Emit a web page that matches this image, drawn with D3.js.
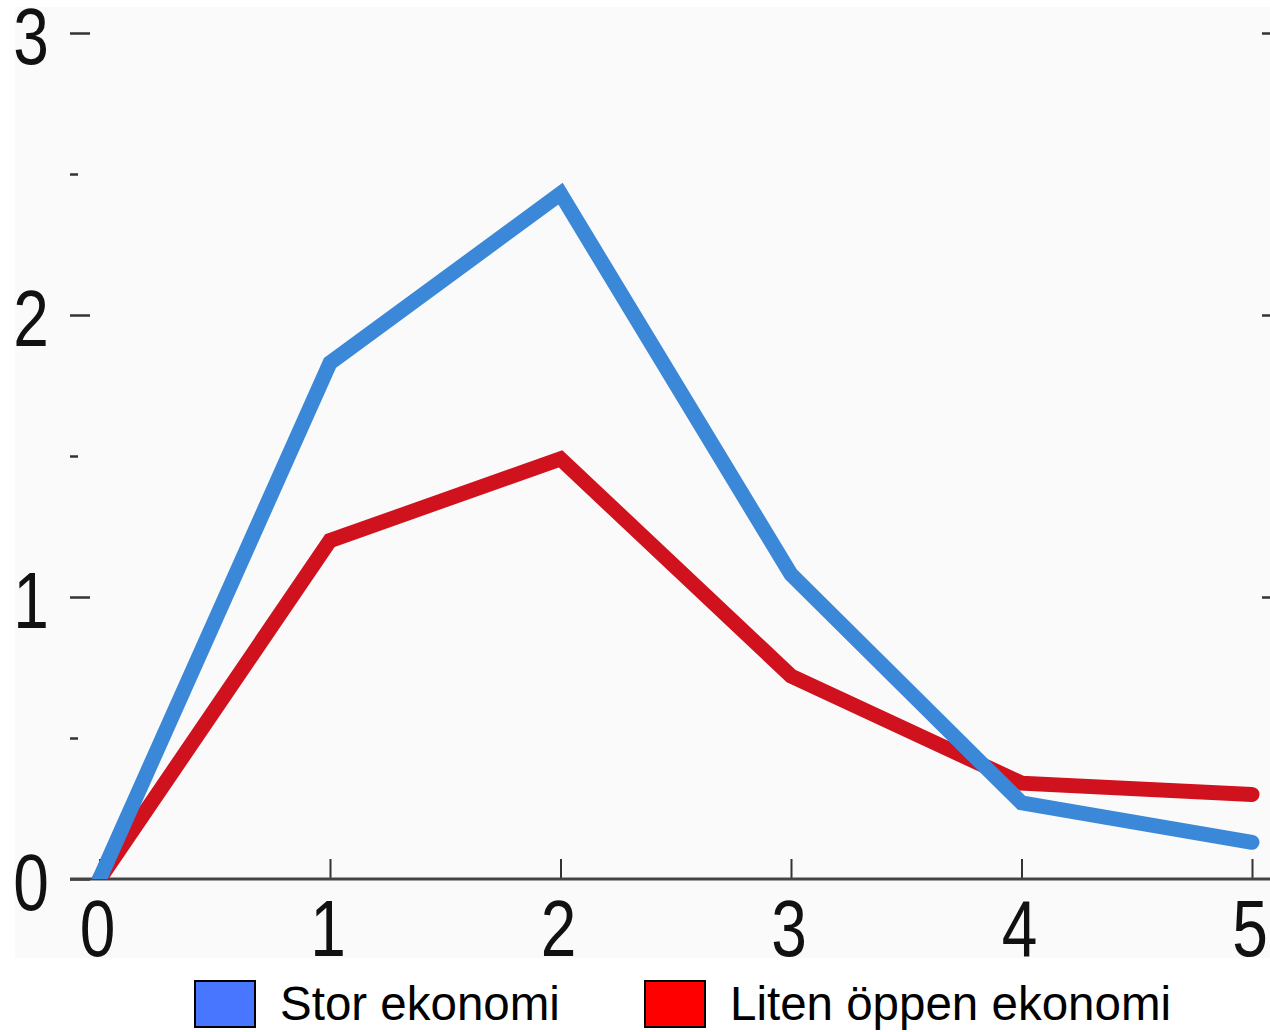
<!DOCTYPE html>
<html><head><meta charset="utf-8">
<script src="https://cdn.jsdelivr.net/npm/d3@7"></script>
<style>body{margin:0;background:#fff}svg{display:block}</style>
</head><body>
<svg id="c" width="1270" height="1032"></svg>
<script>
const years = [0, 1, 2, 3, 4, 5];
const storEkonomi = [0, 1.83, 2.43, 1.08, 0.27, 0.13];
const litenOppen = [0, 1.20, 1.49, 0.72, 0.34, 0.30];
const yMajorTicks = [0, 1, 2, 3];
const yMinorTicks = [0.5, 1.5, 2.5];
const xTickLabels = ["0", "1", "2", "3", "4", "5"];
const seriesNames = ["Stor ekonomi", "Liten öppen ekonomi"];

const svg = d3.select("#c");
const x = d3.scaleLinear().domain([0, 5]).range([99.5, 1252]);
const y = d3.scaleLinear().domain([0, 3]).range([879, 33]);
const numFont = "'Liberation Sans',Arial,sans-serif";
const sx = 0.8;

svg.append("rect").attr("x", 15).attr("y", 7).attr("width", 1255).attr("height", 951).attr("fill", "#fafafa");

svg.append("defs").append("clipPath").attr("id", "clip")
  .append("rect").attr("x", 0).attr("y", 0).attr("width", 1270).attr("height", 879);

// left axis major ticks
const gl = svg.append("g").attr("transform", "translate(90,0)")
  .call(d3.axisLeft(y).tickValues(yMajorTicks).tickSize(20).tickFormat(""));
gl.select(".domain").remove();
gl.selectAll("line").attr("stroke", "#333").attr("stroke-width", 2.5);
const glm = svg.append("g").attr("transform", "translate(78,0)")
  .call(d3.axisLeft(y).tickValues(yMinorTicks).tickSize(8).tickFormat(""));
glm.select(".domain").remove();
glm.selectAll("line").attr("stroke", "#333").attr("stroke-width", 2.5);

// left labels
svg.append("g").selectAll("text").data(yMajorTicks).join("text")
  .attr("transform", d => `translate(31,${y(d) + 31}) scale(${sx},1)`)
  .attr("text-anchor", "middle")
  .attr("font-family", numFont).attr("font-size", 80).attr("fill", "#111")
  .text(d => d);

// right ticks
const gr = svg.append("g").attr("transform", "translate(1262,0)")
  .call(d3.axisRight(y).tickValues(yMajorTicks.filter(d => d > 0)).tickSize(8).tickFormat(""));
gr.select(".domain").remove();
gr.selectAll("line").attr("stroke", "#333").attr("stroke-width", 2.5);

// bottom axis
const gb = svg.append("g").attr("transform", "translate(0,879)")
  .call(d3.axisTop(x).tickValues(years).tickSize(20).tickFormat(""));
gb.select(".domain").remove();
gb.selectAll("line").attr("stroke", "#333").attr("stroke-width", 2);
svg.append("line").attr("x1", 70).attr("x2", 1270).attr("y1", 879).attr("y2", 879)
  .attr("stroke", "#444").attr("stroke-width", 3);

svg.append("g").selectAll("text").data(years).join("text")
  .attr("transform", d => `translate(${x(d) - 2},956) scale(${sx},1)`)
  .attr("text-anchor", "middle")
  .attr("font-family", numFont).attr("font-size", 80).attr("fill", "#111")
  .text((d, i) => xTickLabels[i]);

// lines
const line = d3.line().x((d, i) => x(years[i])).y(d => y(d));
const g = svg.append("g").attr("clip-path", "url(#clip)");
g.append("path").datum(litenOppen).attr("d", line).attr("fill", "none")
  .attr("stroke", "#d0121e").attr("stroke-width", 15).attr("stroke-linecap", "round").attr("stroke-linejoin", "miter");
g.append("path").datum(storEkonomi).attr("d", line).attr("fill", "none")
  .attr("stroke", "#3b88d8").attr("stroke-width", 15).attr("stroke-linecap", "round").attr("stroke-linejoin", "miter");

// legend
const legColors = ["#4876ff", "#ff0000"];
const legX = [195, 645];
const leg = svg.append("g").selectAll("g").data(seriesNames).join("g")
  .attr("transform", (d, i) => `translate(${legX[i]},981)`);
leg.append("rect").attr("width", 60).attr("height", 46).attr("fill", (d, i) => legColors[i])
  .attr("stroke", "#000").attr("stroke-width", 2);
leg.append("text").attr("x", 85).attr("y", 39).attr("font-family", "'Liberation Sans',Arial,sans-serif")
  .attr("font-size", 47.5).attr("fill", "#000").text(d => d);
</script>
</body></html>
